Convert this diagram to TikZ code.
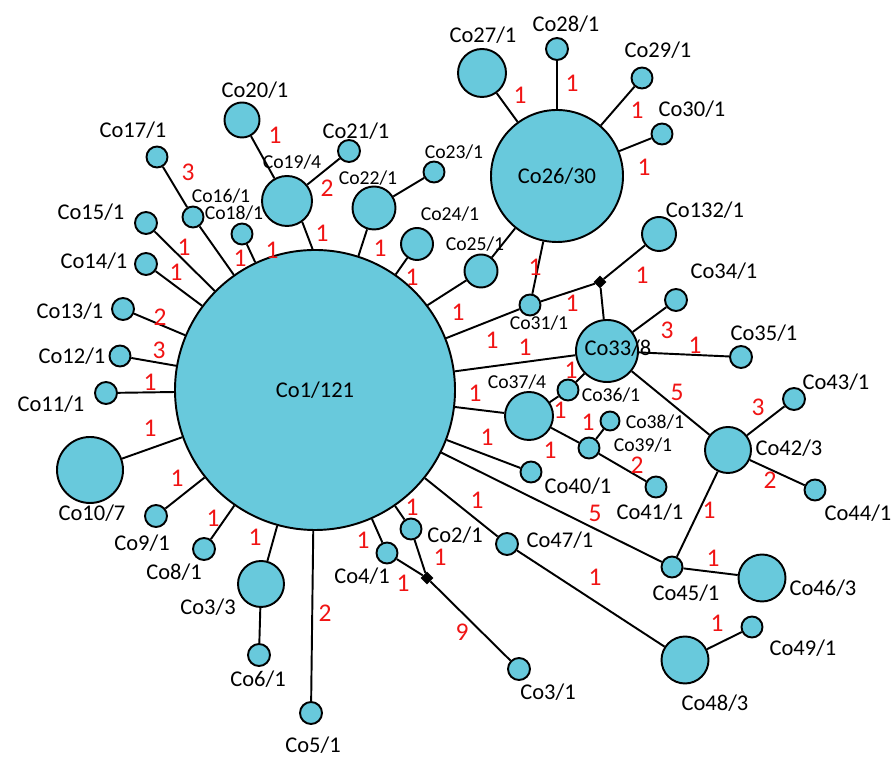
\documentclass[tikz,border=0pt]{standalone}
\usepackage{fontspec}
\setmainfont{Carlito}
\usepackage{tikz}
\usetikzlibrary{shapes.geometric}
\definecolor{hapcyan}{RGB}{104,201,220}
\definecolor{mutred}{RGB}{240,20,20}

\begin{document}
\begin{tikzpicture}[
	hap/.style={circle, draw=black, fill=hapcyan, line width=1.1pt, inner sep=0pt, minimum size=#1},
	junc/.style={diamond, fill=black, inner sep=0pt, minimum size=0.26cm},
	wire/.style={line width=1.1pt},
	mut/.style={text=mutred, font=\fontsize{14.5}{15}\selectfont, inner sep=0pt},
	lab/.style={font=\fontsize{12.8}{13}\selectfont, inner sep=0pt},
	labs/.style={font=\fontsize{11.2}{12}\selectfont, inner sep=0pt}]
				\useasboundingbox (0, 0) rectangle (17.9, 15.22);
				% Haplotypes:
				\node[hap=5.6cm, lab](co1) at (6.30, 7.42){Co1/121};
				\node[hap=2.64cm, lab](co26) at (11.14, 11.70){Co26/30};
				\node[hap=0.96cm](co27) at (9.64, 13.76){};
				\node[hap=0.44cm](co28) at (11.14, 14.24){};
				\node[hap=0.42cm](co29) at (12.84, 13.66){};
				\node[hap=0.42cm](co30) at (13.24, 12.54){};
				\node[hap=0.68cm](co132) at (13.18, 10.54){};
				\node[junc](j1) at (12.00, 9.58){};
				\node[hap=0.42cm](co31) at (10.60, 9.12){};
				\node[hap=0.66cm](co25) at (9.62, 9.80){};
				\node[hap=1.24cm](co33) at (12.14, 8.20){};
				\node[hap=0.44cm](co34) at (13.52, 9.22){};
				\node[hap=0.44cm](co35) at (14.82, 8.08){};
				\node[hap=0.42cm](co36) at (11.36, 7.42){};
				\node[hap=0.96cm](co37) at (10.58, 6.90){};
				\node[hap=0.38cm](co38) at (12.20, 6.80){};
				\node[hap=0.42cm](co39) at (11.78, 6.26){};
				\node[hap=0.42cm](co41) at (13.12, 5.48){};
				\node[hap=0.42cm](co40) at (10.62, 5.78){};
				\node[hap=0.92cm](co42) at (14.56, 6.22){};
				\node[hap=0.44cm](co43) at (15.88, 7.24){};
				\node[hap=0.42cm](co44) at (16.30, 5.42){};
				\node[hap=0.42cm](co45) at (13.44, 3.88){};
				\node[hap=0.94cm](co46) at (15.24, 3.66){};
				\node[hap=0.44cm](co47) at (10.14, 4.34){};
				\node[hap=0.94cm](co48) at (13.70, 2.02){};
				\node[hap=0.42cm](co49) at (15.04, 2.68){};
				\node[hap=0.42cm](co2) at (8.22, 4.64){};
				\node[hap=0.42cm](co4) at (7.74, 4.16){};
				\node[junc](j2) at (8.54, 3.66){};
				\node[hap=0.44cm](co3b) at (10.38, 1.84){};
				\node[hap=0.44cm](co5) at (6.22, 0.96){};
				\node[hap=0.92cm](co3a) at (5.22, 3.54){};
				\node[hap=0.44cm](co6) at (5.18, 2.12){};
				\node[hap=0.44cm](co8) at (4.08, 4.24){};
				\node[hap=0.44cm](co9) at (3.12, 4.90){};
				\node[hap=1.32cm](co10) at (1.80, 5.82){};
				\node[hap=0.44cm](co11) at (2.12, 7.36){};
				\node[hap=0.42cm](co12) at (2.40, 8.10){};
				\node[hap=0.44cm](co13) at (2.46, 9.04){};
				\node[hap=0.44cm](co14) at (2.92, 9.94){};
				\node[hap=0.44cm](co15) at (2.92, 10.76){};
				\node[hap=0.42cm](co16) at (3.86, 10.88){};
				\node[hap=0.42cm](co17) at (3.14, 12.08){};
				\node[hap=0.42cm](co18) at (4.84, 10.54){};
				\node[hap=1.0cm](co19) at (5.74, 11.20){};
				\node[hap=0.70cm](co20) at (4.84, 12.82){};
				\node[hap=0.44cm](co21) at (6.98, 12.20){};
				\node[hap=0.86cm](co22) at (7.48, 11.06){};
				\node[hap=0.42cm](co23) at (8.68, 11.78){};
				\node[hap=0.64cm](co24) at (8.34, 10.34){};
				% Links:
				\draw[wire] (co1) -- (co2);
				\draw[wire] (co1) -- (co4);
				\draw[wire] (co1) -- (co5);
				\draw[wire] (co1) -- (co3a);
				\draw[wire] (co1) -- (co8);
				\draw[wire] (co1) -- (co9);
				\draw[wire] (co1) -- (co10);
				\draw[wire] (co1) -- (co11);
				\draw[wire] (co1) -- (co12);
				\draw[wire] (co1) -- (co13);
				\draw[wire] (co1) -- (co14);
				\draw[wire] (co1) -- (co15);
				\draw[wire] (co1) -- (co16);
				\draw[wire] (co1) -- (co18);
				\draw[wire] (co19.-54) -- (co1.91);
				\draw[wire] (co1) -- (co22);
				\draw[wire] (co1) -- (co24);
				\draw[wire] (co1.37) -- (co25);
				\draw[wire] (co1) -- (co31);
				\draw[wire] (co1) -- (co33);
				\draw[wire] (co1) -- (co37);
				\draw[wire] (co1) -- (co40);
				\draw[wire] (co1) -- (co45);
				\draw[wire] (co1) -- (co47);
				\draw[wire] (co16) -- (co17);
				\draw[wire] (co19) -- (co20);
				\draw[wire] (co19) -- (co21);
				\draw[wire] (co22) -- (co23);
				\draw[wire] (co25) -- (co26);
				\draw[wire] (co26) -- (co27);
				\draw[wire] (co26) -- (co28);
				\draw[wire] (co26) -- (co29);
				\draw[wire] (co26) -- (co30);
				\draw[wire] (co26) -- (co31);
				\draw[wire] (co31) -- (j1);
				\draw[wire] (j1) -- (co132);
				\draw[wire] (j1) -- (co33);
				\draw[wire] (co33) -- (co34);
				\draw[wire] (co33) -- (co35);
				\draw[wire] (co33) -- (co36);
				\draw[wire] (co33) -- (co42);
				\draw[wire] (co36) -- (co37);
				\draw[wire] (co37) -- (co39);
				\draw[wire] (co38) -- (co39);
				\draw[wire] (co39) -- (co41);
				\draw[wire] (co42) -- (co43);
				\draw[wire] (co42) -- (co44);
				\draw[wire] (co42) -- (co45);
				\draw[wire] (co45) -- (co46);
				\draw[wire] (co47) -- (co48);
				\draw[wire] (co48) -- (co49);
				\draw[wire] (co2) -- (j2);
				\draw[wire] (co4) -- (j2);
				\draw[wire] (j2) -- (co3b);
				\draw[wire] (co3a) -- (co6);
				% Names:
				\node[lab](t33) at (12.36, 8.26){Co33/8};
				\node[lab](t27) at (9.66, 14.52){Co27/1};
				\node[lab](t28) at (11.32, 14.74){Co28/1};
				\node[lab](t29) at (13.16, 14.22){Co29/1};
				\node[lab](t30) at (13.84, 13.04){Co30/1};
				\node[lab](t132) at (14.10, 11.02){Co132/1};
				\node[lab](t34) at (14.48, 9.80){Co34/1};
				\node[lab](t35) at (15.28, 8.56){Co35/1};
				\node[labs](t31) at (10.78, 8.76){Co31/1};
				\node[labs](t25) at (9.50, 10.34){Co25/1};
				\node[labs](t24) at (9.00, 10.94){Co24/1};
				\node[labs](t23) at (9.08, 12.18){Co23/1};
				\node[labs](t22) at (7.36, 11.66){Co22/1};
				\node[lab](t21) at (7.12, 12.60){Co21/1};
				\node[lab](t20) at (5.10, 13.42){Co20/1};
				\node[labs](t19) at (5.84, 11.98){Co19/4};
				\node[lab](t17) at (2.66, 12.62){Co17/1};
				\node[labs](t16) at (4.42, 11.30){Co16/1};
				\node[labs](t18) at (4.68, 10.96){Co18/1};
				\node[lab](t15) at (1.82, 10.98){Co15/1};
				\node[lab](t14) at (1.88, 10.00){Co14/1};
				\node[lab](t13) at (1.40, 9.00){Co13/1};
				\node[lab](t12) at (1.44, 8.10){Co12/1};
				\node[lab](t11) at (1.02, 7.14){Co11/1};
				\node[lab](t10) at (1.84, 4.96){Co10/7};
				\node[lab](t9) at (2.84, 4.36){Co9/1};
				\node[lab](t8) at (3.48, 3.78){Co8/1};
				\node[lab](t3a) at (4.16, 3.08){Co3/3};
				\node[lab](t6) at (5.16, 1.64){Co6/1};
				\node[lab](t5) at (6.26, 0.32){Co5/1};
				\node[lab](t4) at (7.24, 3.70){Co4/1};
				\node[lab](t2) at (9.10, 4.52){Co2/1};
				\node[lab](t3b) at (10.96, 1.38){Co3/1};
				\node[lab](t47) at (11.20, 4.42){Co47/1};
				\node[lab](t40) at (11.56, 5.50){Co40/1};
				\node[lab](t41) at (13.00, 4.98){Co41/1};
				\node[labs](t39) at (12.86, 6.32){Co39/1};
				\node[labs](t38) at (13.10, 6.78){Co38/1};
				\node[labs](t37) at (10.34, 7.58){Co37/4};
				\node[labs](t36) at (12.22, 7.32){Co36/1};
				\node[lab](t42) at (15.78, 6.26){Co42/3};
				\node[lab](t43) at (16.72, 7.58){Co43/1};
				\node[lab](t44) at (17.16, 4.96){Co44/1};
				\node[lab](t45) at (13.72, 3.36){Co45/1};
				\node[lab](t46) at (16.46, 3.46){Co46/3};
				\node[lab](t48) at (14.30, 1.16){Co48/3};
				\node[lab](t49) at (16.06, 2.26){Co49/1};
				% Mutation steps:
				\node[mut] at (3.76, 11.78){3};
				\node[mut] at (4.80, 10.06){1};
				\node[mut] at (5.44, 10.22){1};
				\node[mut] at (3.68, 10.28){1};
				\node[mut] at (3.52, 9.78){1};
				\node[mut] at (3.20, 8.88){2};
				\node[mut] at (3.18, 8.22){3};
				\node[mut] at (3.00, 7.58){1};
				\node[mut] at (3.00, 6.66){1};
				\node[mut] at (3.54, 5.66){1};
				\node[mut] at (4.26, 4.86){1};
				\node[mut] at (5.10, 4.48){1};
				\node[mut] at (6.50, 2.96){2};
				\node[mut] at (7.26, 4.42){1};
				\node[mut] at (8.24, 5.08){1};
				\node[mut] at (8.80, 4.08){1};
				\node[mut] at (8.06, 3.56){1};
				\node[mut] at (9.24, 2.58){9};
				\node[mut] at (9.54, 5.22){1};
				\node[mut] at (11.90, 3.68){1};
				\node[mut] at (11.90, 4.96){5};
				\node[mut] at (9.74, 6.48){1};
				\node[mut] at (9.50, 7.36){1};
				\node[mut] at (10.50, 8.28){1};
				\node[mut] at (9.84, 8.42){1};
				\node[mut] at (9.16, 8.98){1};
				\node[mut] at (8.24, 9.68){1};
				\node[mut] at (7.60, 10.26){1};
				\node[mut] at (6.44, 10.56){1};
				\node[mut] at (5.50, 12.52){1};
				\node[mut] at (6.54, 11.46){2};
				\node[mut] at (10.70, 9.88){1};
				\node[mut] at (11.44, 9.16){1};
				\node[mut] at (12.84, 9.72){1};
				\node[mut] at (10.40, 13.32){1};
				\node[mut] at (11.44, 13.56){1};
				\node[mut] at (12.74, 13.02){1};
				\node[mut] at (12.88, 11.88){1};
				\node[mut] at (13.34, 8.62){3};
				\node[mut] at (13.90, 8.32){1};
				\node[mut] at (11.42, 7.82){1};
				\node[mut] at (11.20, 7.02){1};
				\node[mut] at (11.76, 6.78){1};
				\node[mut] at (11.00, 6.22){1};
				\node[mut] at (12.74, 5.92){2};
				\node[mut] at (13.54, 7.38){5};
				\node[mut] at (15.16, 7.08){3};
				\node[mut] at (15.40, 5.62){2};
				\node[mut] at (14.18, 5.02){1};
				\node[mut] at (14.26, 4.06){1};
				\node[mut] at (14.34, 2.76){1};
			\end{tikzpicture}
\end{document}
